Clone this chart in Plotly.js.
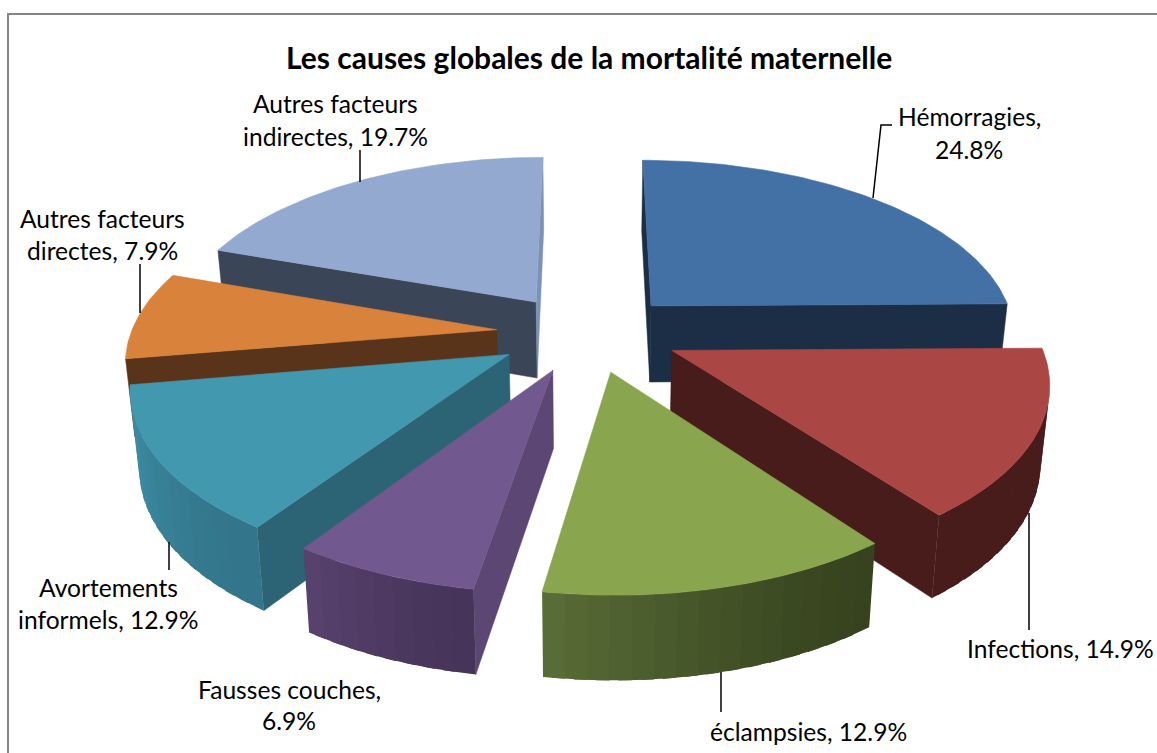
<!DOCTYPE html>
<html>
<head>
<meta charset="utf-8">
<script src="https://cdn.plot.ly/plotly-3.0.1.min.js"></script>
<style>html,body{margin:0;padding:0;background:#fff;overflow:hidden}</style>
</head>
<body>
<div id="chart" style="width:1157px;height:753px"></div>
<script>
// Data
const categories = ["Hémorragies","Infections","éclampsies","Fausses couches","Avortements informels","Autres facteurs directes","Autres facteurs indirectes"];
const values = [24.8,14.9,12.9,6.9,12.9,7.9,19.7];
const chartTitle = "Les causes globales de la mortalité maternelle";

// Styles
const topColors   = ["#4471a5","#aa4644","#89a54e","#71588f","#4198af","#d8823c","#93a9cf"];
const startWall   = ["#1c2e45","#471c1a","#36431e","#5c4674","#2c6476","#59341a","#3a4558"];
const endWall     = ["#1c2e45","#471c1a","#586c36","#5c4674","#2c6476","#59341a","#7a92b8"];
const arcStart    = ["#1c2e45","#471c1a","#36431e","#47345a","#33758a","#59341a","#3a4558"];
const arcEnd      = ["#1c2e45","#471c1a","#5a6e38","#57436e","#3e93ac","#59341a","#3a4558"];

// Projection of the 3D pie (perspective view from above)
const view = {cx:588, cy:333, A:375, B:175.6, p:0.153, radiusU:0.975, explodeU:0.245, explodeV:0.222, depth:77, shrink:0.02};
function project(u,v,z){
  const s = 1/(1+view.p*v);
  return [view.cx + view.A*u*s*(1-view.shrink*z),
          view.cy - view.B*v*s + view.depth*Math.sqrt(s)*z];
}
function hex(c){return [1,3,5].map(i=>parseInt(c.substr(i,2),16));}
function mix(a,b,t){const A=hex(a),B=hex(b);return "rgb("+A.map((x,i)=>Math.round(x+(B[i]-x)*t)).join(",")+")";}
function area(q){let s=0;for(let i=0;i<q.length;i++){const a=q[i],b=q[(i+1)%q.length];s+=a[0]*b[1]-b[0]*a[1];}return s;}
function poly(pts,color,width){
  return {type:"scatter",mode:"lines",x:pts.map(p=>p[0]).concat(pts[0][0]),y:pts.map(p=>p[1]).concat(pts[0][1]),
    fill:"toself",fillcolor:color,line:{color:color,width:width},hoverinfo:"skip",showlegend:false};
}

const total = values.reduce((a,b)=>a+b,0);
let acc = 0;
const slices = values.map((val,i)=>{
  const a0 = acc/total*2*Math.PI; acc += val; const a1 = acc/total*2*Math.PI;
  const mid = (a0+a1)/2;
  return {i,a0,a1,ou:view.explodeU*Math.sin(mid),ov:view.explodeV*Math.cos(mid)};
});
const traces = [];
slices.slice().sort((a,b)=>b.ov-a.ov).forEach(s=>{
  const rim = (a,z)=>project(s.ou+view.radiusU*Math.sin(a),s.ov+Math.cos(a),z);
  const apex = z=>project(s.ou,s.ov,z);
  // radial walls
  let q=[apex(0),rim(s.a0,0),rim(s.a0,1),apex(1)];
  if(area(q)<0) traces.push(poly(q,startWall[s.i],0.5));
  q=[rim(s.a1,0),apex(0),apex(1),rim(s.a1,1)];
  if(area(q)<0) traces.push(poly(q,endWall[s.i],0.5));
  // outer wall: bands overlap the next one so no seam shows
  const n = Math.max(8,Math.round((s.a1-s.a0)/0.05));
  for(let k=0;k<n;k++){
    const b0=s.a0+(s.a1-s.a0)*k/n, b1=s.a0+(s.a1-s.a0)*Math.min(n,k+1.6)/n;
    const w=[rim(b0,0),rim(b1,0),rim(b1,1),rim(b0,1)];
    if(area(w)<0) traces.push(poly(w,mix(arcStart[s.i],arcEnd[s.i],Math.pow((k+0.5)/n,1.5)),0));
  }
  // top face
  const top=[apex(0)];
  for(let k=0;k<=n*3;k++) top.push(rim(s.a0+(s.a1-s.a0)*k/(n*3),0));
  traces.push(poly(top,topColors[s.i],0.6));
});

// Labels
const labelBreak = [1,0,0,2,1,2,2];
const labelAnchor = ["center","right","center","center","center","center","center"];
const labelX = [969,1156,808,289,108,102,335];
const labelY = [[116,149],[648],[731],[689,720],[587,619],[218,250],[103,136]];
const annotations = [];
categories.forEach((c,i)=>{
  const words = (c+", "+values[i].toFixed(1)+"%").split(" ");
  const lines = labelBreak[i] ? [words.slice(0,labelBreak[i]).join(" "),words.slice(labelBreak[i]).join(" ")] : [words.join(" ")];
  lines.forEach((t,j)=>annotations.push({x:labelX[i],y:labelY[i][j],xref:"x",yref:"y",text:t,showarrow:false,
    xanchor:labelAnchor[i],yanchor:"middle",font:{family:"Lato, sans-serif",size:24.6,color:"#000"}}));
});
annotations.push({x:589,y:57,xref:"x",yref:"y",text:"<b>"+chartTitle+"</b>",showarrow:false,xanchor:"center",yanchor:"middle",
  font:{family:"Lato, sans-serif",size:30,color:"#000"}});

// Leader lines and chart frame
const leaders = ["M892,125 L881,125 L873,198","M1029,513 L1029,630","M721,672 L721,712","M169,542 L169,570","M140,264 L140,313","M360,150 L360,182"];
const shapes = leaders.map(p=>({type:"path",path:p,xref:"x",yref:"y",line:{color:"#000",width:1.5},layer:"above"}));
shapes.push({type:"path",path:"M8,753 L8,14 L1157,14",xref:"x",yref:"y",line:{color:"#868686",width:2},layer:"below"});

Plotly.newPlot("chart",traces,{
  width:1157,height:753,margin:{l:0,r:0,t:0,b:0},paper_bgcolor:"#fff",plot_bgcolor:"#fff",showlegend:false,
  xaxis:{range:[0,1157],visible:false,fixedrange:true},
  yaxis:{range:[753,0],visible:false,fixedrange:true},
  annotations:annotations,shapes:shapes
},{displayModeBar:false,staticPlot:true});
</script>
</body>
</html>
